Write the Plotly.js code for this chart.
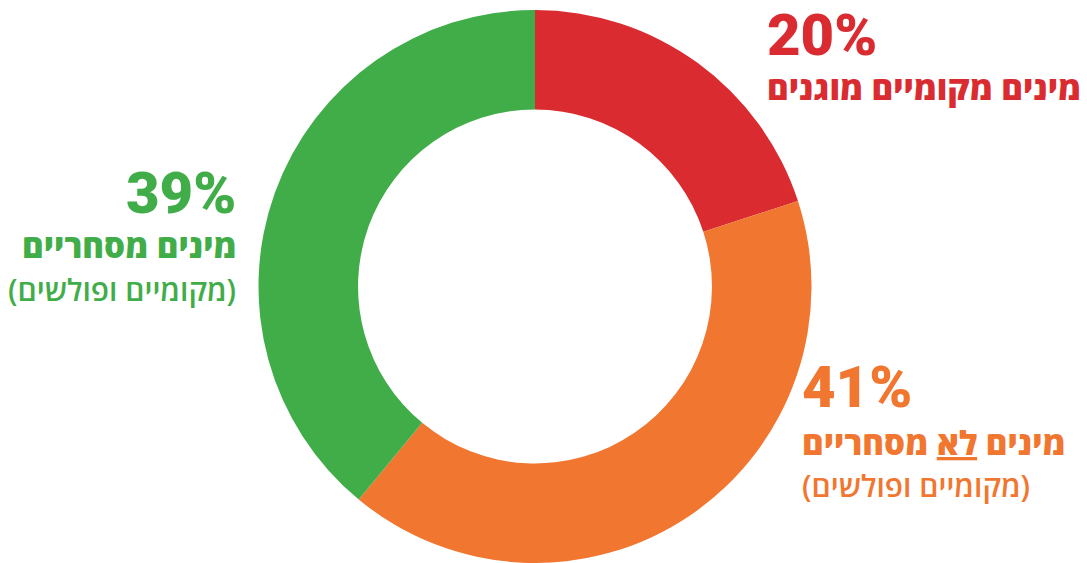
<!DOCTYPE html>
<html>
<head>
<meta charset="utf-8">
<script src="https://cdn.plot.ly/plotly-3.0.1.min.js"></script>
<style>html,body{margin:0;padding:0;background:#fff;}#chart{width:1087px;height:563px;}</style>
</head>
<body>
<div id="chart"></div>
<script>
const categories = ["מינים מקומיים מוגנים", "מינים לא מסחריים", "מינים מסחריים"];
const values = [20, 41, 39];
const colors = ["#D92B30", "#F1762F", "#41AD49"];
const pctLabels = ["20%", "41%", "39%"];
const mainLabels = ["מינים מקומיים מוגנים", "מינים <span style=\"text-decoration:underline\">לא</span> מסחריים", "מינים מסחריים"];
const subLabels = ["", "(מקומיים ופולשים)", "(מקומיים ופולשים)"];

const W = 1087, H = 563;
const px = x => x / W;
const py = y => 1 - y / H;

const trace = {
  type: "pie",
  values: values,
  labels: categories,
  marker: {colors: colors, line: {width: 0}},
  hole: 0.64,
  sort: false,
  direction: "clockwise",
  rotation: 0,
  textinfo: "none",
  hoverinfo: "label+percent",
  domain: {x: [px(257), px(813)], y: [py(566), py(10)]},
  showlegend: false
};

const numFont = c => ({family: "Roboto, 'Open Sans', sans-serif", size: 58, color: c, weight: 900});
const hebBold = c => ({family: "'Open Sans', 'Liberation Sans', sans-serif", size: 33, color: c, weight: 800});
const hebReg = c => ({family: "'Open Sans', 'Liberation Sans', sans-serif", size: 30, color: c, weight: 600});

function ann(text, x, y, anchor, font) {
  return {text: text, x: px(x), y: py(y), xref: "paper", yref: "paper", xanchor: anchor, yanchor: "middle", showarrow: false, borderpad: 0, font: font};
}

const annotations = [
  ann(pctLabels[0], 766, 35, "left", numFont(colors[0])),
  ann(mainLabels[0], 766, 88, "left", hebBold(colors[0])),
  ann(pctLabels[2], 237, 193, "right", numFont(colors[2])),
  ann(mainLabels[2], 237, 246, "right", hebBold(colors[2])),
  ann(subLabels[2], 237, 289, "right", hebReg(colors[2])),
  ann(pctLabels[1], 801, 387, "left", numFont(colors[1])),
  ann(mainLabels[1], 801, 442, "left", hebBold(colors[1])),
  ann(subLabels[1], 801, 485, "left", hebReg(colors[1]))
];

const layout = {
  width: W, height: H,
  margin: {l: 0, r: 0, t: 0, b: 0},
  paper_bgcolor: "#ffffff",
  plot_bgcolor: "#ffffff",
  showlegend: false,
  annotations: annotations
};

Plotly.newPlot("chart", [trace], layout, {displayModeBar: false, staticPlot: true});
</script>
</body>
</html>
